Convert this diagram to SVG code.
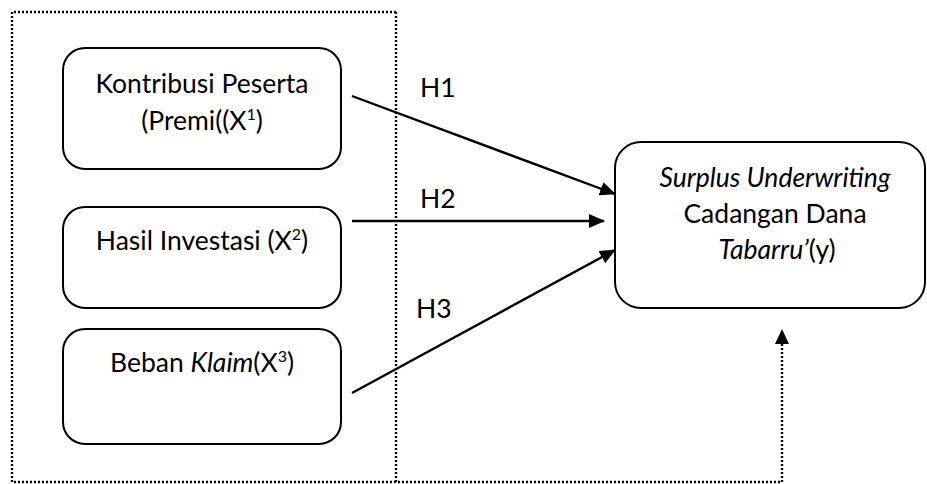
<svg xmlns="http://www.w3.org/2000/svg" width="927" height="484" viewBox="0 0 927 484">
<style>
.box{fill:#fff;stroke:#000;stroke-width:2}
.t{font-family:Lato,"Liberation Sans",sans-serif;font-size:26.5px;fill:#000;text-anchor:middle}
.lbl{font-family:Lato,"Liberation Sans",sans-serif;font-size:26.5px;fill:#000}
.dot{fill:none;stroke:#000;stroke-width:2.4;stroke-dasharray:2 2}
.arr{fill:none;stroke:#000;stroke-width:2.4}
</style>
<defs>
<marker id="ah" markerWidth="16" markerHeight="14" refX="15" refY="7" orient="auto" markerUnits="userSpaceOnUse">
<path d="M0,0 L16,7 L0,14 Z" fill="#000"/>
</marker>
</defs>
<rect width="927" height="484" fill="#fff"/>
<g id="frame">
<path class="dot" d="M396,12 H12 V482 H782 V344"/>
<path class="dot" d="M396,12 V482"/>
</g>
<g id="x1">
<rect class="box" x="63" y="48" width="278" height="121" rx="22"/>
<text class="t" x="202" y="93">Kontribusi Peserta</text>
<text class="t" x="202" y="130">(Premi((X<tspan font-size="16" dy="-10">1</tspan><tspan dy="10">)</tspan></text>
</g>
<g id="x2">
<rect class="box" x="63" y="207" width="278" height="101" rx="22"/>
<text class="t" x="202" y="250">Hasil Investasi (X<tspan font-size="16" dy="-10">2</tspan><tspan dy="10">)</tspan></text>
</g>
<g id="x3">
<rect class="box" x="63" y="329" width="278" height="115" rx="22"/>
<text class="t" x="202" y="372">Beban <tspan font-style="italic">Klaim</tspan>(X<tspan font-size="16" dy="-10">3</tspan><tspan dy="10">)</tspan></text>
</g>
<g id="y">
<rect class="box" x="615" y="142" width="310" height="166" rx="26"/>
<text class="t" x="775" y="187" font-style="italic">Surplus Underwriting</text>
<text class="t" x="775" y="223">Cadangan Dana</text>
<text class="t" x="777" y="259"><tspan font-style="italic">Tabarru’</tspan>(y)</text>
</g>
<g id="connectors">
<line class="arr" x1="352" y1="96" x2="615" y2="194" marker-end="url(#ah)"/>
<line class="arr" x1="352" y1="221" x2="604" y2="221" marker-end="url(#ah)"/>
<line class="arr" x1="352" y1="393" x2="615" y2="250" marker-end="url(#ah)"/>
<path d="M782,329 L775,344 L789,344 Z" fill="#000"/>
<text class="lbl" x="420" y="97">H1</text>
<text class="lbl" x="420" y="208">H2</text>
<text class="lbl" x="416" y="318">H3</text>
</g>
</svg>
